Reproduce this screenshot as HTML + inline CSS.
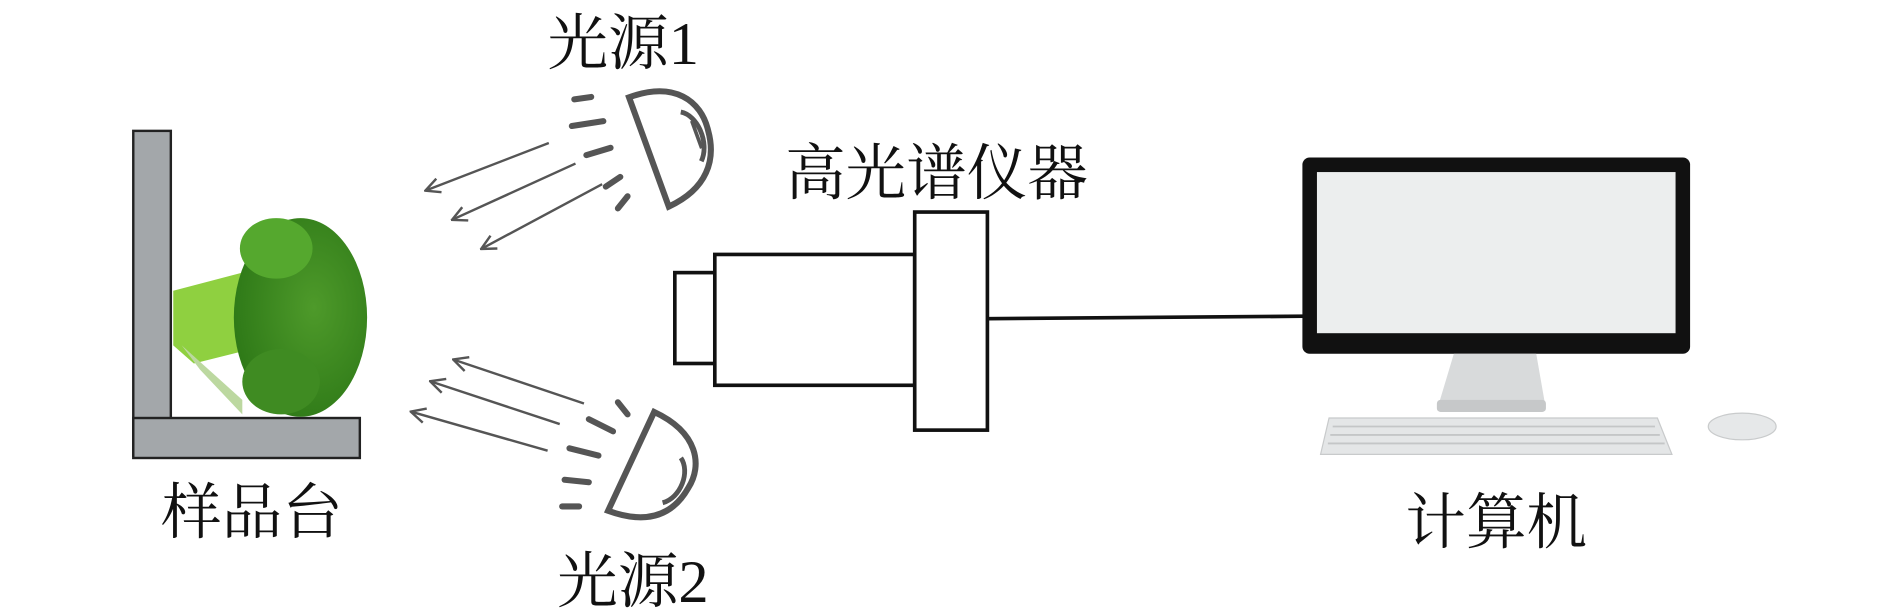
<!DOCTYPE html>
<html><head><meta charset="utf-8"><style>
html,body{margin:0;padding:0;background:#fff;}
svg{display:block;}
text{font-family:"Liberation Serif","Noto Serif CJK SC",serif;fill:#111;}
</style></head><body>
<svg width="1890" height="616" viewBox="0 0 1560 508.4" xmlns="http://www.w3.org/2000/svg">
<defs>
<marker id="ah" markerWidth="14" markerHeight="14" refX="12" refY="7" orient="auto" markerUnits="userSpaceOnUse">
<path d="M1,1 L13,7 L1,13" fill="none" stroke="#555" stroke-width="2"/>
</marker>
<radialGradient id="br" cx="0.6" cy="0.45" r="0.6">
<stop offset="0" stop-color="#4e9a2a"/><stop offset="1" stop-color="#2f7a18"/></radialGradient>
</defs>
<!-- sample stage -->
<rect x="110" y="108" width="31" height="268" fill="#a3a7aa" stroke="#222" stroke-width="2"/>
<rect x="110" y="345" width="187" height="33" fill="#a3a7aa" stroke="#222" stroke-width="2"/>
<!-- broccoli -->
<path d="M143,240 L200,225 L215,250 L200,290 L160,300 L143,285Z" fill="#8fd040"/>
<path d="M150,285 L200,330 L200,342 L165,305Z" fill="#bcd8a0"/>
<ellipse cx="248" cy="262" rx="55" ry="82" fill="url(#br)"/>
<ellipse cx="228" cy="205" rx="30" ry="25" fill="#55a82e"/>
<ellipse cx="232" cy="315" rx="32" ry="27" fill="#3f8b22"/>
<text x="133" y="440" font-size="50">样品台</text>
<!-- lamp 1 -->
<text x="452" y="53" font-size="50">光源1</text>
<g transform="translate(545,122) rotate(-20)" fill="#fff" stroke="#555" stroke-width="5">
<path d="M-10,-48 C30,-48 45,-25 42,0 C40,25 25,45 -10,48 Z"/>
<path d="M26,-22 C38,-15 40,10 28,22" fill="none" stroke-width="4"/>
<path d="M32,-12 L32,12" stroke-width="3"/>
</g>
<g stroke="#555" stroke-width="5" stroke-linecap="round">
<line x1="474" y1="82" x2="488" y2="80"/>
<line x1="472" y1="104" x2="498" y2="100"/>
<line x1="484" y1="128" x2="504" y2="122"/>
<line x1="500" y1="154" x2="512" y2="146"/>
<line x1="510" y1="172" x2="518" y2="162"/>
</g>
<g stroke="#555" stroke-width="2" marker-end="url(#ah)">
<line x1="453" y1="118" x2="352" y2="157"/>
<line x1="475" y1="135" x2="374" y2="181"/>
<line x1="497" y1="152" x2="398" y2="205"/>
</g>
<!-- lamp 2 -->
<text x="460" y="497" font-size="50">光源2</text>
<g transform="translate(530,385) rotate(25)" fill="#fff" stroke="#555" stroke-width="5">
<path d="M-10,-45 C30,-45 45,-22 42,0 C40,25 25,42 -10,45 Z"/>
<path d="M26,-20 C38,-13 40,10 28,20" fill="none" stroke-width="4"/>
</g>
<g stroke="#555" stroke-width="5" stroke-linecap="round">
<line x1="510" y1="332" x2="518" y2="342"/>
<line x1="486" y1="346" x2="506" y2="356"/>
<line x1="470" y1="370" x2="494" y2="376"/>
<line x1="466" y1="396" x2="486" y2="398"/>
<line x1="464" y1="418" x2="478" y2="418"/>
</g>
<g stroke="#555" stroke-width="2" marker-end="url(#ah)">
<line x1="482" y1="333" x2="375" y2="297"/>
<line x1="462" y1="350" x2="356" y2="315"/>
<line x1="452" y1="372" x2="340" y2="340"/>
</g>
<!-- spectrometer -->
<text x="648" y="160" font-size="50">高光谱仪器</text>
<g fill="#fff" stroke="#111" stroke-width="3">
<rect x="557" y="225" width="33" height="75"/>
<rect x="590" y="210" width="165" height="108"/>
<rect x="755" y="175" width="60" height="180"/>
</g>
<line x1="815" y1="263" x2="1076" y2="261" stroke="#111" stroke-width="3"/>
<!-- computer -->
<rect x="1075" y="130" width="320" height="162" rx="6" fill="#111"/>
<rect x="1087" y="142" width="296" height="133" fill="#eceeee"/>
<path d="M1200,292 L1268,292 L1275,332 L1188,332 Z" fill="#d8dadb"/>
<rect x="1186" y="330" width="90" height="10" rx="3" fill="#c6c8c9"/>
<path d="M1097,345 L1368,345 L1380,375 L1090,375 Z" fill="#e4e6e7" stroke="#c8cacb"/>
<g stroke="#c4c6c7" stroke-width="1.5"><line x1="1100" y1="352" x2="1366" y2="352"/><line x1="1098" y1="359" x2="1370" y2="359"/><line x1="1096" y1="366" x2="1374" y2="366"/></g>
<ellipse cx="1438" cy="352" rx="28" ry="11" fill="#e6e8e9" stroke="#c9cbcc"/>
<text x="1160" y="448" font-size="50">计算机</text>
</svg>
</body></html>
